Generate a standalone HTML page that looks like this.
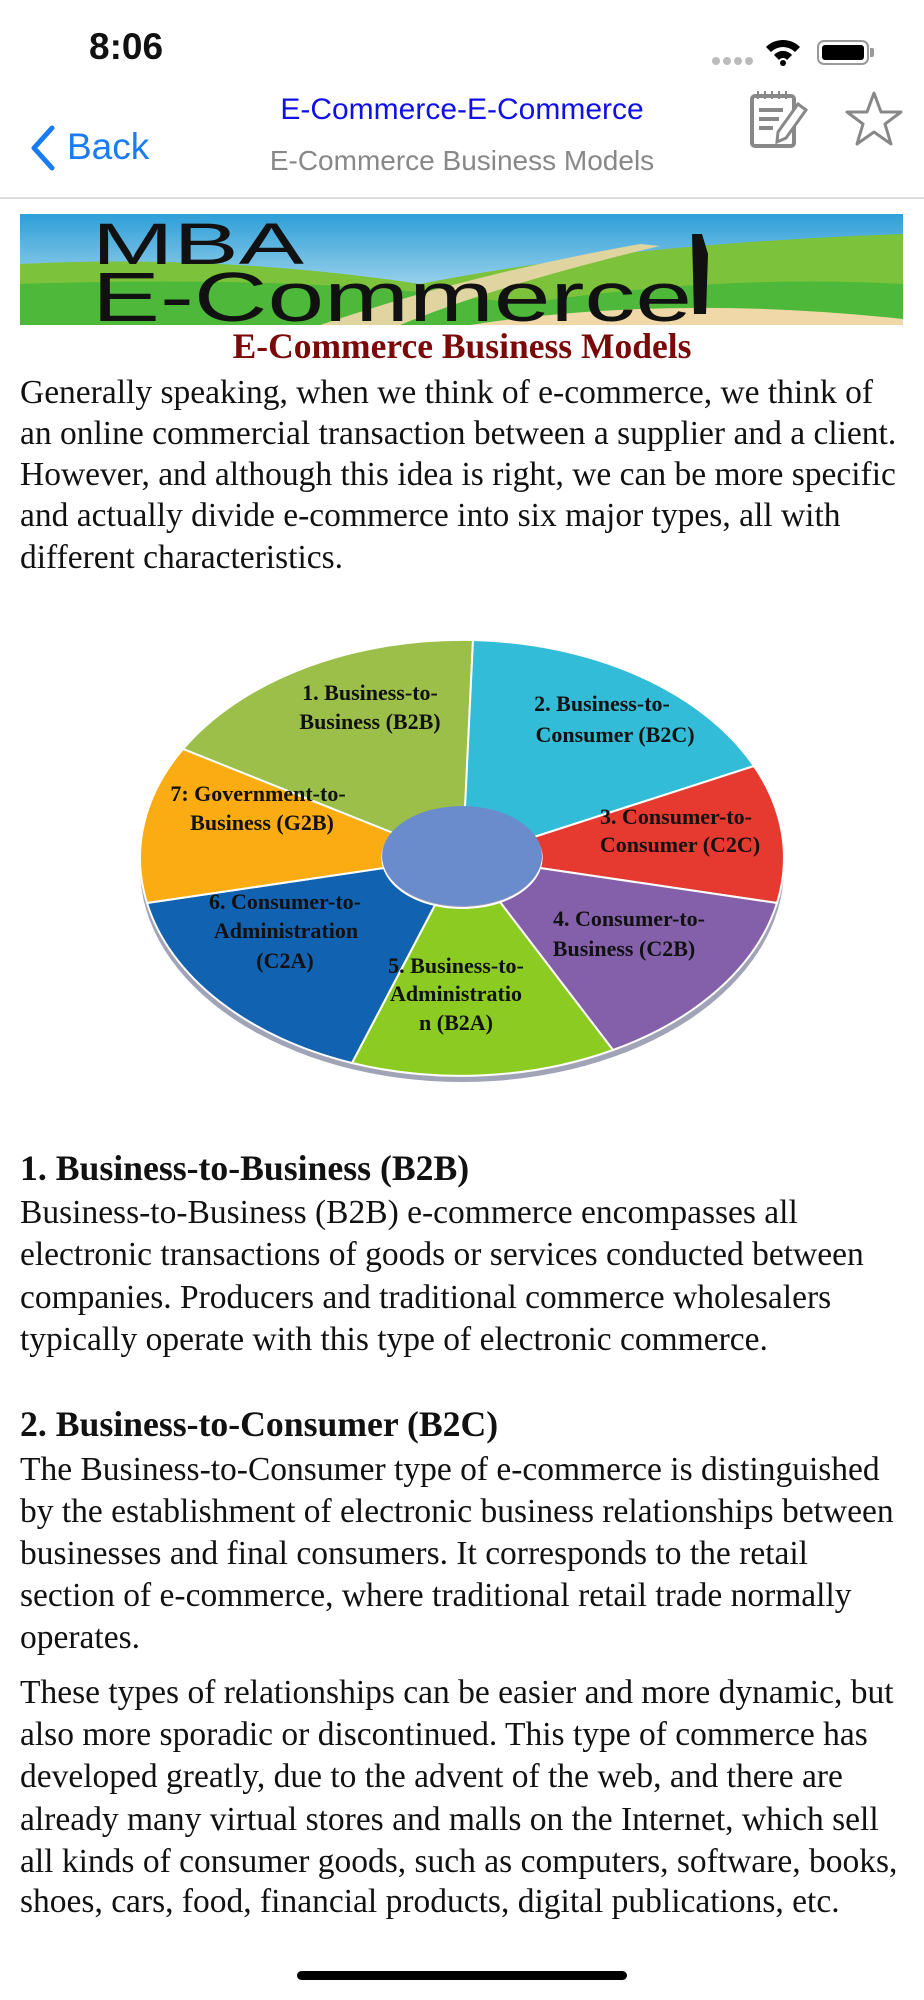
<!DOCTYPE html>
<html><head><meta charset="utf-8"><style>
*{margin:0;padding:0;box-sizing:border-box}
body{width:924px;height:2000px;background:#fff;position:relative;overflow:hidden;font-family:"Liberation Serif",serif;color:#111}
.a{position:absolute;white-space:nowrap}
.t{position:absolute;left:20px;font-size:33.5px;line-height:42px;white-space:nowrap}
.h{font-weight:bold;font-size:35.7px}
</style></head><body>
<div class="a" style="left:89px;top:26px;font-family:'Liberation Sans',sans-serif;font-size:37px;font-weight:bold;">8:06</div>
<div class="a" style="left:712px;top:53px;">
<svg width="45" height="10"><circle cx="4" cy="5" r="4" fill="#bbb"/><circle cx="15" cy="5" r="4" fill="#bbb"/><circle cx="26" cy="5" r="4" fill="#bbb"/><circle cx="37" cy="5" r="4" fill="#bbb"/></svg></div>
<svg class="a" style="left:764px;top:38px" width="38" height="28" viewBox="0 0 38 28"><path d="M2 9 A24 24 0 0 1 36 9 L31 14 A17 17 0 0 0 7 14Z" fill="#000"/><path d="M10 17 A12 12 0 0 1 28 17 L23 22 A5 5 0 0 0 15 22Z" fill="#000"/><circle cx="19" cy="25" r="3" fill="#000"/></svg>
<div class="a" style="left:817px;top:40px;width:52px;height:25px;border:2px solid #999;border-radius:7px;padding:3px"><div style="background:#000;width:100%;height:100%;border-radius:3px"></div></div>
<div class="a" style="left:870px;top:48px;width:4px;height:9px;background:#999;border-radius:0 2px 2px 0"></div>

<svg class="a" style="left:26px;top:124px" width="32" height="48"><path d="M26 4 L8 24 L26 44" stroke="#1a7cf5" stroke-width="5" fill="none" stroke-linecap="round" stroke-linejoin="round"/></svg>
<div class="a" style="left:67px;top:126px;font-family:'Liberation Sans',sans-serif;font-size:37px;color:#1a7cf5">Back</div>
<div class="a" style="left:0;width:924px;text-align:center;top:93px;font-family:'Liberation Sans',sans-serif;font-size:30px;color:#1010e8">E-Commerce-E-Commerce</div>
<div class="a" style="left:0;width:924px;text-align:center;top:145px;font-family:'Liberation Sans',sans-serif;font-size:28px;color:#888">E-Commerce Business Models</div>
<svg class="a" style="left:748px;top:88px" width="62" height="62" viewBox="0 0 62 62"><rect x="4" y="8" width="42" height="50" rx="3" fill="none" stroke="#888" stroke-width="4"/><path d="M10 3v8M17 3v8M24 3v8M31 3v8M38 3v8" stroke="#888" stroke-width="2"/><path d="M11 22h24M11 31h20M11 40h14" stroke="#888" stroke-width="4"/><path d="M50 16l8 6-20 28-9 4 1-10z" fill="#fff" stroke="#888" stroke-width="3"/></svg>
<svg class="a" style="left:843px;top:90px" width="62" height="58" viewBox="0 0 62 58"><path d="M31 3 L38 22 L58 22 L42 34 L48 54 L31 42 L14 54 L20 34 L4 22 L24 22Z" fill="none" stroke="#888" stroke-width="3" stroke-linejoin="round"/></svg>
<div class="a" style="left:0;top:197px;width:924px;height:2px;background:#ddd"></div>

<svg class="a" style="left:20px;top:214px" width="883" height="111" viewBox="0 0 883 111">
<defs><linearGradient id="sky" x1="0" y1="0" x2="0" y2="1"><stop offset="0" stop-color="#2d9fd8"/><stop offset="1" stop-color="#d4ecf5"/></linearGradient></defs>
<rect width="883" height="111" fill="url(#sky)"/>
<path d="M0 50 Q200 40 400 70 Q600 30 883 20 L883 111 L0 111Z" fill="#7cc23a"/>
<path d="M0 70 Q300 60 500 90 Q700 60 883 70 L883 111 L0 111Z" fill="#4db83a"/>
<path d="M300 111 Q450 60 620 30 L640 32 Q480 70 380 111Z" fill="#e0d4a0"/>
<path d="M450 111 Q650 80 883 105 L883 111Z" fill="#f0d8a8"/>
<path d="M672 20 l10 0 l6 20 l-2 60 l-12 0 z" fill="#111"/>
<text x="72" y="50" font-family="'Liberation Sans',sans-serif" font-size="58" fill="#111" textLength="212" lengthAdjust="spacingAndGlyphs">MBA</text>
<text x="72" y="107" font-family="'Liberation Sans',sans-serif" font-size="70" fill="#111" textLength="600" lengthAdjust="spacingAndGlyphs">E-Commerce</text>
</svg>
<div class="a" style="left:0;width:924px;text-align:center;top:325px;font-size:35.5px;font-weight:bold;color:#7a0a0a">E-Commerce Business Models</div>

<div class="t" style="top:372px">Generally speaking, when we think of e-commerce, we think of</div>
<div class="t" style="top:413px">an online commercial transaction between a supplier and a client.</div>
<div class="t" style="top:454px">However, and although this idea is right, we can be more specific</div>
<div class="t" style="top:495px">and actually divide e-commerce into six major types, all with</div>
<div class="t" style="top:537px">different characteristics.</div>

<svg class="a" style="left:0;top:600px" width="924" height="500" viewBox="0 600 924 500">
<ellipse cx="462" cy="868" rx="322" ry="214" fill="#444a70" opacity="0.5"/>
<g stroke="#fff" stroke-width="2">
<path d="M183 749 A322 218 0 0 1 473 640 L465 808 A80 50 0 0 0 393 833Z" fill="#9cbf4a"/>
<path d="M473 640 A322 218 0 0 1 754 766 L534 837 A80 50 0 0 0 465 808Z" fill="#33bcd8"/>
<path d="M754 766 A322 218 0 0 1 777 903 L540 868 A80 50 0 0 0 534 837Z" fill="#e63a30"/>
<path d="M777 903 A322 218 0 0 1 613 1050 L500 902 A80 50 0 0 0 540 868Z" fill="#8560aa"/>
<path d="M613 1050 A322 218 0 0 1 352 1063 L435 905 A80 50 0 0 0 500 902Z" fill="#8ccc22"/>
<path d="M352 1063 A322 218 0 0 1 147 903 L384 868 A80 50 0 0 0 435 905Z" fill="#1262b2"/>
<path d="M147 903 A322 218 0 0 1 183 749 L393 833 A80 50 0 0 0 384 868Z" fill="#fbac12"/>
</g>
<ellipse cx="462" cy="856" rx="80" ry="50" fill="#6a8ccc"/>
<g font-family="'Liberation Serif',serif" font-weight="bold" font-size="22" text-anchor="middle" fill="#111">
<text x="370" y="700">1. Business-to-</text><text x="370" y="729">Business (B2B)</text>
<text x="602" y="711">2. Business-to-</text><text x="615" y="742">Consumer (B2C)</text>
<text x="676" y="824">3. Consumer-to-</text><text x="680" y="852">Consumer (C2C)</text>
<text x="629" y="926">4. Consumer-to-</text><text x="624" y="956">Business (C2B)</text>
<text x="456" y="973">5. Business-to-</text><text x="456" y="1001">Administratio</text><text x="456" y="1030">n (B2A)</text>
<text x="285" y="909">6. Consumer-to-</text><text x="286" y="938">Administration</text><text x="285" y="968">(C2A)</text>
<text x="258" y="801">7: Government-to-</text><text x="262" y="830">Business (G2B)</text>
</g>
</svg>

<div class="t h" style="top:1147px">1. Business-to-Business (B2B)</div>
<div class="t" style="top:1192px">Business-to-Business (B2B) e-commerce encompasses all</div>
<div class="t" style="top:1234px">electronic transactions of goods or services conducted between</div>
<div class="t" style="top:1277px">companies. Producers and traditional commerce wholesalers</div>
<div class="t" style="top:1319px">typically operate with this type of electronic commerce.</div>

<div class="t h" style="top:1403px">2. Business-to-Consumer (B2C)</div>
<div class="t" style="top:1449px">The Business-to-Consumer type of e-commerce is distinguished</div>
<div class="t" style="top:1491px">by the establishment of electronic business relationships between</div>
<div class="t" style="top:1533px">businesses and final consumers. It corresponds to the retail</div>
<div class="t" style="top:1575px">section of e-commerce, where traditional retail trade normally</div>
<div class="t" style="top:1617px">operates.</div>

<div class="t" style="top:1672px">These types of relationships can be easier and more dynamic, but</div>
<div class="t" style="top:1714px">also more sporadic or discontinued. This type of commerce has</div>
<div class="t" style="top:1756px">developed greatly, due to the advent of the web, and there are</div>
<div class="t" style="top:1799px">already many virtual stores and malls on the Internet, which sell</div>
<div class="t" style="top:1841px">all kinds of consumer goods, such as computers, software, books,</div>
<div class="t" style="top:1881px">shoes, cars, food, financial products, digital publications, etc.</div>

<div class="a" style="left:297px;top:1971px;width:330px;height:9px;border-radius:5px;background:#000"></div>
</body></html>
